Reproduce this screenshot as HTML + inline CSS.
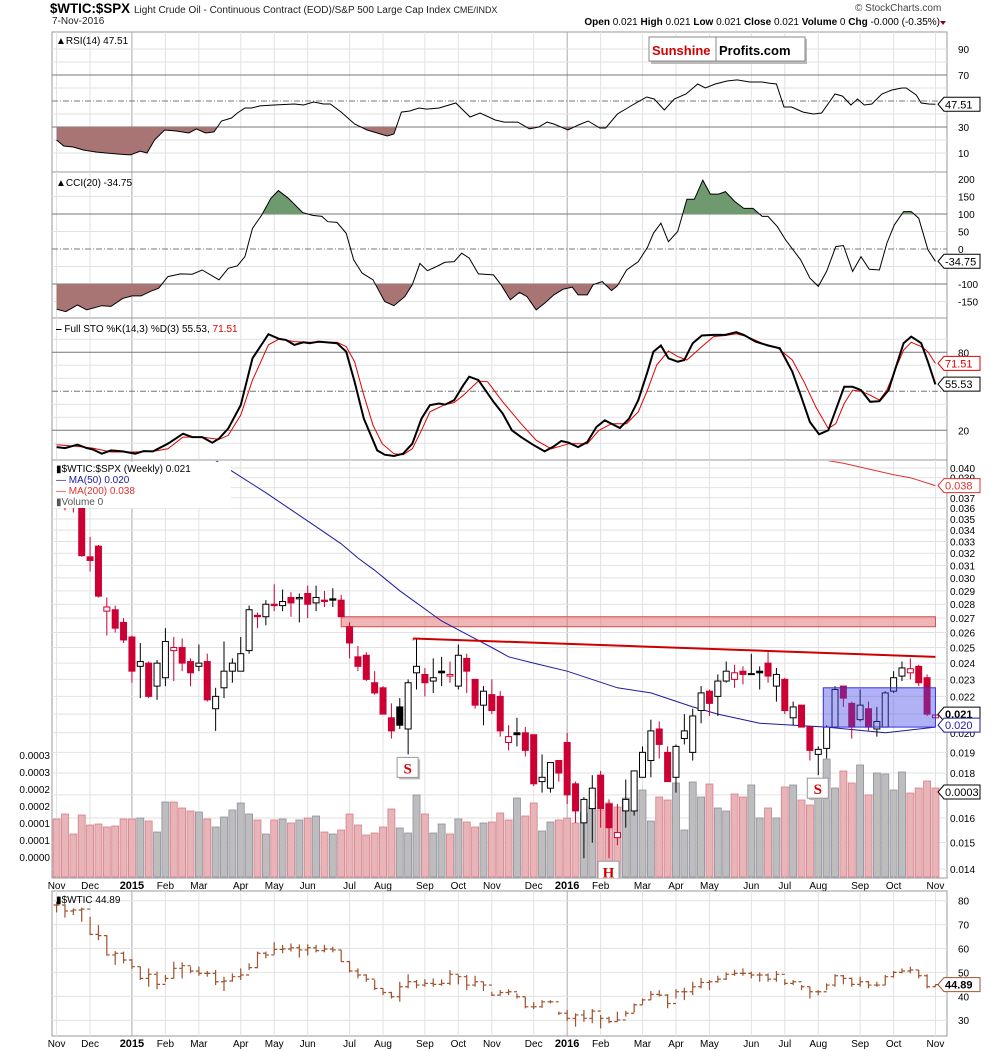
<!DOCTYPE html>
<html><head><meta charset="utf-8"><title>$WTIC:$SPX chart</title>
<style>
html,body{margin:0;padding:0;background:#fff;}
svg{display:block;font-family:"Liberation Sans",sans-serif;}
</style></head>
<body>
<svg id="chart" width="990" height="1051" viewBox="0 0 990 1051" xmlns="http://www.w3.org/2000/svg">
<defs>
<clipPath id="cpRsi"><rect x="52" y="32" width="895" height="140"/></clipPath>
<clipPath id="cpRsiLow"><rect x="52" y="127" width="895" height="45"/></clipPath>
<clipPath id="cpCci"><rect x="52" y="172" width="895" height="146"/></clipPath>
<clipPath id="cpCciHi"><rect x="52" y="172" width="895" height="42"/></clipPath>
<clipPath id="cpCciLo"><rect x="52" y="284" width="895" height="34"/></clipPath>
<clipPath id="cpSto"><rect x="52" y="318" width="895" height="142"/></clipPath>
<clipPath id="cpPrice"><rect x="52" y="461" width="895" height="417"/></clipPath>
<clipPath id="cpW"><rect x="52" y="891" width="895" height="145"/></clipPath>
</defs>
<text x="50" y="13" font-size="14" font-weight="bold" textLength="80" lengthAdjust="spacingAndGlyphs">$WTIC:$SPX</text>
<text x="134" y="13" font-size="10" fill="#222">Light Crude Oil - Continuous Contract (EOD)/S&amp;P 500 Large Cap Index <tspan font-size="9">CME/INDX</tspan></text>
<text x="52" y="24" font-size="10" fill="#222">7-Nov-2016</text>
<text x="855" y="11" font-size="10" fill="#444">© StockCharts.com</text>
<text x="940" y="25" font-size="10" text-anchor="end" fill="#000"><tspan font-weight="bold">Open</tspan> 0.021 <tspan font-weight="bold">High</tspan> 0.021 <tspan font-weight="bold">Low</tspan> 0.021 <tspan font-weight="bold">Close</tspan> 0.021 <tspan font-weight="bold">Volume</tspan> 0 <tspan font-weight="bold">Chg</tspan> -0.000 (-0.35%)</text>
<path d="M940 21 L946 21 L943 25 Z" fill="#8b0030"/>
<g id="layer"></g>
</svg>
<script>
// ===== DATA =====
const monthLabels=["Nov","Dec","2015","Feb","Mar","Apr","May","Jun","Jul","Aug","Sep","Oct","Nov","Dec","2016","Feb","Mar","Apr","May","Jun","Jul","Aug","Sep","Oct","Nov"];
const monthWeeks=[0,4,9,13,17,22,26,30,35,39,44,48,52,57,61,65,70,74,78,83,87,91,96,100,105];
// price (in thousandths: 21.0 = 0.0210)
const priceOpen=[38.0,37.5,37.0,36.0,31.7,32.6,27.5,27.6,26.7,25.7,23.8,24.0,22.6,23.1,24.8,25.0,24.1,23.8,24.1,21.3,22.5,23.5,23.5,24.8,27.2,27.1,28.0,27.9,28.5,28.4,28.8,28.1,28.3,28.4,28.3,26.4,24.4,24.5,22.8,22.5,20.8,21.4,20.2,23.4,23.3,22.9,23.5,23.2,22.6,24.3,23.0,21.5,22.1,22.0,19.5,20.0,20.0,19.9,17.6,17.3,18.6,19.5,17.5,15.8,16.4,17.9,16.6,15.2,16.3,16.3,17.8,18.6,20.2,19.0,17.8,19.7,19.0,21.2,22.3,22.0,22.9,23.0,23.5,23.35,23.5,24.0,22.6,23.0,20.8,21.5,20.3,18.9,19.2,20.3,22.6,21.6,20.7,21.3,20.2,20.3,22.3,23.2,23.4,23.8,23.1,20.8];
const priceHigh=[39.0,38.5,38.0,36.2,33.4,32.7,28.5,27.9,27.0,25.8,25.3,24.1,24.2,26.3,25.7,25.6,24.3,25.2,24.6,22.5,25.4,24.3,25.7,27.9,27.4,28.3,29.5,29.1,28.9,28.8,29.4,29.4,29.0,29.2,28.7,26.7,25.1,24.7,23.5,22.6,21.6,21.9,23.0,25.6,23.7,24.3,24.4,24.1,25.2,24.6,23.0,22.6,23.0,22.3,20.4,20.8,20.3,19.9,18.9,18.5,18.6,20.0,17.6,16.9,17.9,18.1,16.8,16.6,17.7,18.1,19.3,20.7,20.6,19.3,19.4,21.0,21.3,22.6,22.4,23.3,24.1,23.9,23.8,24.6,23.8,24.7,23.7,23.1,21.7,21.5,20.3,19.3,20.4,22.6,22.6,21.7,22.4,21.7,21.4,22.3,23.5,24.1,24.3,23.9,23.3,21.0];
const priceLow=[36.6,35.8,35.6,31.7,30.5,28.5,25.8,26.0,25.3,22.8,21.9,21.9,21.8,22.6,22.9,23.5,22.6,23.5,21.7,20.1,21.9,22.8,23.5,24.6,26.3,26.5,27.5,27.5,27.1,26.7,27.0,27.5,27.8,27.8,27.1,24.3,23.5,22.9,22.1,21.0,19.7,20.2,18.9,22.4,22.0,22.2,22.6,22.8,22.4,22.2,21.3,20.4,21.0,19.8,19.1,19.3,18.8,17.4,17.1,17.1,17.6,16.6,15.8,14.4,15.0,15.6,14.4,14.9,15.6,16.1,17.8,17.8,18.7,17.6,17.1,19.4,18.6,20.5,20.9,20.9,22.8,22.5,22.7,23.3,22.4,22.8,21.7,21.0,20.4,20.3,18.6,17.9,18.7,20.3,21.4,19.7,20.6,20.1,19.8,20.3,22.2,22.9,23.0,22.6,20.9,20.8];
const priceClose=[37.5,37.0,36.2,31.8,31.4,28.6,27.8,26.3,25.5,23.5,24.1,22.0,24.0,25.4,25.0,24.0,23.4,24.0,21.8,22.0,23.5,24.0,24.6,27.6,27.1,28.0,27.9,28.2,28.1,28.5,28.0,28.5,28.2,28.3,27.1,25.3,23.8,23.0,22.2,21.0,20.1,20.4,22.8,23.8,22.8,23.1,23.4,23.3,24.5,23.5,21.5,22.3,21.2,20.1,19.8,19.9,19.1,17.5,17.8,18.5,18.0,17.0,16.3,16.8,17.3,16.4,15.6,15.4,16.8,18.1,19.0,20.1,19.4,17.6,19.3,20.1,20.9,22.2,21.6,22.9,23.5,23.4,23.3,23.3,23.4,23.2,23.3,21.2,21.4,20.3,19.1,19.15,20.3,22.4,21.9,20.3,21.5,20.3,20.6,22.2,23.1,23.7,23.65,22.8,21.0,20.95];
const volume=[11.6,12.6,8.6,12.4,10.4,10.6,10,10.2,11.6,11.6,11.8,11.2,9,15,15,13.8,13.2,13,11.6,10,12,13.4,14.8,12.6,11.4,8.6,11.4,11.6,10.8,11.4,11.8,12.2,9,8.6,9.4,12.6,10.4,8.4,8.8,10,13.6,9.8,8.8,16.4,12.6,8.8,10.6,8.6,11.6,11,10,10.8,11,12.8,11.4,15.8,12.2,14.8,9.2,11,11.4,11.8,10.8,12.8,14,13.4,14.8,14,15.8,13.4,17.4,11.2,16,15.4,18.8,9.4,19,16,18.6,13.8,13.2,16.6,16,18.4,11.8,13.8,11.8,18,18.4,15.4,14.4,17.4,23.6,17.8,21.2,18.8,22.4,16.4,20.8,20.6,17.4,21,16.8,17.8,19.2,17.8];
const ma50Week=[17,20,25,31,34,36,38,41,46,52,54,57,61,67,71,76,79,84,92,99,105];
const ma50Val=[42.0,40.2,37.5,34.3,32.8,31.6,30.6,29.0,26.8,25.0,24.4,24.0,23.5,22.5,22.2,21.4,21.0,20.5,20.3,20.0,20.3];
const ma200Week=[92,94,100,102,105];
const ma200Val=[40.8,40.5,39.3,39.0,38.2];
const priceTicks=[40,39,38,37,36,35,34,33,32,31,30,29,28,27,26,25,24,23,22,21,20,19,18,17,16,15,14];
const volTickVals=[24.4,21,17.6,14.2,10.8,7.4,4];
const volTickLabels=["0.0003","0.0003","0.0002","0.0002","0.0001","0.0001","0.0000"];
// RSI
const rsiWeek=[0,0.85,2,3.2,4.7,5.9,7.3,8.8,10,10.8,11.7,12.9,14.3,15.8,16.7,17.8,18.8,19.7,20.9,21.6,22.5,23.3,24.3,26,28.4,29.5,30.7,31.9,32.7,34,35.6,37.1,38.3,39.5,40.3,41.2,42.2,43.3,44.2,45.7,47.7,49.4,50.6,52.4,53.5,55.1,56.5,57.6,58.6,59.4,61.1,62.3,63.5,64.9,65.6,67,68.8,70.5,71.4,72.6,73.8,75.2,76.6,77.5,78.7,80.1,81.3,82.8,84.3,85.1,86,86.9,87.8,89.2,90.4,91.4,92.5,93,93.9,94.9,95.7,96.5,97.4,98.6,99.8,101,101.5,102.7,103.3,104.2,105];
const rsiVal=[20,15.4,14.6,12.3,10.8,10,9.2,8.5,11.5,10,20,27.7,26.9,25.4,28.5,25.4,26.2,34.6,36.9,40.8,44.6,44.6,46.2,46.9,47.7,46.9,49.2,47.7,47.7,41.5,32.3,27.7,25.4,23.1,24.6,41.5,42.3,44.6,43.8,44.6,48.5,37.7,40.8,35.4,33.8,33.8,28.5,30,33.8,32.3,27.7,31.5,34.6,29.2,29.2,40,46.9,53.1,51.5,43.1,51.5,55.4,63.1,60,63.1,65.4,66.2,64.6,64.6,63.8,63.1,45.4,45.4,41.5,40,40.8,50.8,55.4,53.8,46.9,51.5,46.9,47.7,55.4,58.5,60,60,54.6,48.5,47.7,47.5];
const rsiTicks=[90,70,30,10];
// CCI
const cciWeek=[0,1.1,2.5,3.6,5.4,6.5,7.9,9,10.1,11.2,12.2,13.3,14.8,16.2,17.4,19.4,20.5,21.6,22.5,23.4,24.5,25.6,26.5,27.7,29.4,30.6,31.7,32.4,33.5,34.6,35.5,36.5,37.8,39.2,40.3,41.6,42.5,43.4,44.3,45.4,46.4,47.5,48.4,49.3,50.4,52.2,53.1,54.2,55.3,56.2,57.3,58.3,59.4,60.5,61.6,62.3,63.4,64.1,65.2,66.3,67,68.1,69.5,70.6,71.3,72.2,73.1,74.2,75.3,76.2,77.2,78.1,79.1,79.9,81,82.1,83.2,84.3,85,86.1,87.1,88.9,90,91,92,93.1,94,95.1,96.1,97.1,98.3,99.2,100.1,101.2,102.1,103,104.1,105];
const cciVal=[-172,-179,-160,-174,-162,-164,-141,-134,-134,-121,-112,-79,-71,-72,-60,-88,-55,-48,-22,59,97,145,167,145,104,96,93,78,76,45,-31,-69,-88,-150,-162,-136,-102,-41,-62,-50,-38,-36,-12,-26,-71,-74,-102,-145,-124,-136,-174,-155,-131,-115,-109,-131,-131,-102,-93,-119,-105,-60,-36,5,45,74,21,50,142,142,197,157,157,164,136,116,116,93,93,64,26,-31,-83,-107,-64,7,10,-64,-22,-58,-60,17,69,107,107,88,-2,-35];
const cciTicks=[200,150,100,50,0,-100,-150];
// STO
const stoKWeek=[0,1,2.5,3.6,4.3,5.4,6.5,7.9,9.4,10.4,11.5,13.3,15.1,16.2,17.4,18.6,19.4,20.5,22,23.4,25.3,26.6,27.4,28.4,29.5,30.2,31.3,33.5,34.6,35.6,36.7,37.8,38.3,39.2,40.3,41.4,42.5,43.6,44.6,45.7,46.4,47.5,48.6,49.3,50.4,52.2,53.3,54.4,55.5,56.9,58.3,59.4,60.3,61.2,62.3,63.4,64.5,65.5,67.3,68.4,69.5,70.6,71.3,72.2,73.1,74.2,75,76,77.1,78.5,79.9,81.2,82.1,83.5,85,86.4,87.9,88.9,90,91.1,92.2,93.3,94.1,95.1,96.1,97.2,98.3,99.4,100.1,101.2,102.1,103.3,104.1,105];
const stoKVal=[7.1,6.3,8.9,6.3,5.3,2.0,4.5,3.8,2.0,4.0,3.8,9.7,17.4,14.8,14.8,10.5,13.6,21.3,39.3,75.4,93.9,90.3,89.5,85.7,87.7,87.0,88.2,87.0,80.5,57.3,29.0,12.3,4.5,1.2,0.2,2.0,9.7,29.0,39.3,40.6,39.8,43.2,54.8,61.2,58.6,41.9,32.9,20.0,14.8,8.9,3.8,7.6,11.8,10.5,7.1,11.0,22.6,27.7,21.8,29.0,43.2,65.1,80.5,85.2,75.4,72.8,74.1,87.0,92.9,93.4,93.4,95.5,93.4,88.2,85.2,83.1,65.1,47.0,26.4,16.9,20.0,39.3,53.5,53.5,50.9,41.9,42.4,50.9,65.1,87.0,92.1,87.0,72.8,55.3];
const stoDWeek=[0,2.5,4.3,6.5,9.4,11.5,13.3,15.1,17.4,19.4,20.5,22,23.4,25.3,26.6,28.4,30.2,32.4,33.5,34.6,35.6,36.7,37.8,38.9,40.3,41.4,42.5,43.6,44.6,46.4,47.5,48.6,50.4,51.5,53.3,55.5,57.3,59.1,61.2,63.4,64.8,66.3,68.1,69.5,70.6,71.7,73.1,74.2,75.3,77.1,78.5,79.9,81.2,82.5,84.3,86.1,87.9,89.3,90.7,92.2,93.1,94.1,95.1,96.1,97.2,98.3,99.2,100.1,101.2,102.1,103.3,104.1,105];
const stoDVal=[8.9,7.6,6.3,3.3,3.3,3.8,5.8,14.8,14.8,13.0,16.1,31.6,58.6,85.7,90.3,88.2,87.7,87.7,87.7,84.4,72.8,47.0,23.9,9.7,2.0,1.2,5.8,20.0,34.2,39.8,41.4,47.0,57.9,57.3,41.9,25.1,12.3,5.8,9.7,9.7,20.0,25.1,25.1,34.2,50.9,70.2,81.0,76.7,74.1,84.4,92.1,92.9,94.2,92.1,87.0,83.6,74.1,57.3,38.0,21.3,25.1,40.6,50.9,50.1,47.0,43.2,50.9,65.1,81.8,87.7,84.4,80.5,71.5];
const stoTicks=[80,20];
// WTIC
const wClose=[78.2,75.7,76.1,76.5,65.9,65.4,57.3,58.0,55.2,52.4,47.5,49.2,45.0,47.5,51.7,52.8,50.6,49.6,49.6,46.1,46.4,48.2,48.9,52.0,58.0,57.3,59.6,59.8,60.3,59.4,60.3,59.1,59.8,59.4,54.5,50.6,48.9,47.2,43.3,41.6,39.8,44.0,46.1,44.7,45.4,45.0,45.4,49.2,48.2,44.7,46.1,44.7,40.5,41.6,41.9,39.8,35.6,35.6,37.7,37.7,32.9,30.8,32.2,30.8,33.8,30.8,29.4,30.1,32.9,36.4,38.5,40.8,40.5,37.0,41.9,41.9,44.0,45.8,46.1,47.2,49.2,49.6,49.6,48.9,48.9,47.2,49.2,45.4,46.1,44.0,41.9,41.9,44.7,48.6,47.5,45.0,46.1,44.7,44.7,48.2,50.0,50.6,51.0,48.6,44.0,44.9];
const wHigh=[79.6,78.5,76.8,77.1,73.3,69.8,65.6,58.9,58.7,55.6,52.4,51.7,50.3,48.9,54.5,54.2,52.4,52.4,50.6,51.0,48.2,49.6,51.7,53.8,58.7,58.7,62.6,61.5,62.1,61.7,61.7,61.5,61.5,60.8,59.4,54.8,51.7,49.2,46.8,43.3,41.9,46.1,49.2,46.8,47.2,47.5,47.1,51.0,48.9,48.9,48.6,46.1,41.9,42.6,43.0,41.2,39.8,37.5,38.4,38.4,33.6,34.3,32.9,34.3,34.7,32.2,31.5,33.6,33.9,37.0,39.1,42.2,42.6,40.9,43.0,43.6,46.1,47.7,46.8,48.6,50.0,51.0,51.7,50.3,50.0,49.6,50.6,47.2,46.8,44.7,44.0,42.6,45.4,49.2,48.9,47.8,48.2,46.4,46.1,48.9,50.6,51.7,52.4,51.0,49.2,45.0];
const wLow=[75.1,72.9,74.0,71.2,65.6,63.5,57.0,53.1,53.8,51.4,46.8,44.0,43.0,46.1,47.5,47.5,49.7,48.6,48.2,44.7,42.2,46.1,46.8,51.0,51.7,55.9,57.5,58.0,58.7,56.2,57.0,58.4,58.4,58.4,54.5,50.0,47.5,46.1,42.6,40.5,39.1,37.7,43.3,43.3,44.0,44.0,44.4,44.7,45.0,42.6,44.0,42.2,40.1,40.3,40.5,39.1,35.0,34.7,35.2,37.0,32.2,29.7,27.3,29.3,28.7,26.6,28.7,29.4,31.5,33.2,36.4,38.5,39.9,35.0,39.1,38.4,40.5,43.3,42.6,45.7,46.8,48.6,48.6,47.5,46.1,46.1,46.1,44.7,44.7,42.6,39.1,40.5,42.6,44.0,45.0,44.0,44.0,43.3,44.0,44.7,47.8,49.6,49.6,47.5,43.3,44.0];
const wTicks=[80,70,60,50,40,30];
// annotations (data coords)
const resistZone={w0:34,w1:105,lo:26.4,hi:27.1};
const trendLine={w0:42.6,v0:25.6,w1:105,v1:24.4};
const consolBox={w0:91.6,w1:105,lo:20.3,hi:22.5};
const patternLabels=[{t:"S",w:42},{t:"H",w:66},{t:"S",w:91}];

// ===== SCALES =====
const L=52,R=947;
const xw=k=>56.6+8.37*k;
const yp=p=>468+382*Math.log(40/p);
const yv=v=>877-v*5;
const yr=v=>75+(70-v)*1.3;
const yc=v=>249-v*0.35;
const ys=v=>391.3-(v-50)*1.3;
const yW=v=>900.7+(80-v)*2.39;

const NS='http://www.w3.org/2000/svg';
const root=document.getElementById('layer');
function mk(tag,a,parent){const e=document.createElementNS(NS,tag);for(const k in a)e.setAttribute(k,a[k]);(parent||root).appendChild(e);return e;}
function grp(clip,parent){const g=mk('g',clip?{'clip-path':'url(#'+clip+')'}:{},parent);return g;}
function pts(ws,vs,fy){let s='';const n=Math.min(ws.length,vs.length);for(let i=0;i<n;i++)s+=xw(ws[i]).toFixed(1)+','+fy(vs[i]).toFixed(1)+' ';return s;}
function txt(x,y,s,a,parent){const t=mk('text',Object.assign({x:x,y:y,'font-size':10,fill:'#000'},a||{}),parent);t.textContent=s;return t;}
function tag(y,s,color,bold){
  const g=mk('g',{});
  
  
  mk('path',{d:`M938 ${y} L944 ${y-7} L980 ${y-7} L980 ${y+7} L944 ${y+7} Z`,fill:'#fff',stroke:color,'stroke-width':1},g);
  const t=txt(945,y+4,s,{fill:bold?'#000':color,'font-weight':bold?'bold':'normal','font-size':11},g);
  
  
}
function panel(name,y0,y1){
  const r=mk('rect',{x:L,y:y0,width:R-L,height:y1-y0,fill:'#fff',stroke:'#999','stroke-width':1});
  
  
  monthWeeks.forEach((w,i)=>{
    const yr2=(monthLabels[i]==="2015"||monthLabels[i]==="2016");
    const l=mk('line',{x1:xw(w),x2:xw(w),y1:y0,y2:y1,stroke:yr2?'#aaa':'#e2e2e2','stroke-width':1});
    
    
  });
}
function hline(y,style,name){
  const a={x1:L,x2:R,y1:y,y2:y,stroke:style==='light'?'#e2e2e2':'#777','stroke-width':1};
  if(style==='dash')a['stroke-dasharray']='6,2,1,2';
  const l=mk('line',a);
  
  
}

// ===== RSI PANEL =====
panel('rsi-panel',32,172);
[80,60,40,20].forEach(v=>hline(yr(v),'light','rsi-gridline'));
[90,10].forEach(v=>hline(yr(v),'light','rsi-gridline'));
hline(yr(70),'solid','rsi-overbought-line');hline(yr(30),'solid','rsi-oversold-line');hline(yr(50),'dash','rsi-midline');
{const g=grp('cpRsiLow');const p=mk('polygon',{points:xw(rsiWeek[0])+','+yr(30)+' '+pts(rsiWeek,rsiVal,yr)+xw(105)+','+yr(30),fill:'#a87474'},g);
}
{const g=grp('cpRsi');const p=mk('polyline',{points:pts(rsiWeek,rsiVal,yr),fill:'none',stroke:'#000','stroke-width':1},g);
}
rsiTicks.forEach(v=>{const t=txt(958,yr(v)+4,String(v));});
{const t=txt(56,44,'▲RSI(14) 47.51',{'font-size':10});}
tag(yr(47.5),'47.51','#000',false);

// Sunshine box
{const g=mk('g',{});
mk('rect',{x:651,y:39,width:156,height:25,fill:'#bbb'},g);
mk('rect',{x:649,y:37,width:156,height:24,fill:'#fff',stroke:'#888'},g);
mk('line',{x1:716,x2:716,y1:37,y2:61,stroke:'#888'},g);
txt(652,55,'Sunshine',{fill:'#d00000','font-weight':'bold','font-size':13},g);
txt(719,55,'Profits.com',{fill:'#000','font-weight':'bold','font-size':13},g);}

// ===== CCI PANEL =====
panel('cci-panel',172,318);
[150,50,-50,-150].forEach(v=>hline(yc(v),'light','cci-gridline'));
hline(yc(100),'solid','cci-upper-line');hline(yc(-100),'solid','cci-lower-line');hline(yc(0),'dash','cci-zero-line');
{const g=grp('cpCciHi');const p=mk('polygon',{points:xw(0)+','+yc(100)+' '+pts(cciWeek,cciVal,yc)+xw(105)+','+yc(100),fill:'#6f9a6f'},g);
}
{const g=grp('cpCciLo');const p=mk('polygon',{points:xw(0)+','+yc(-100)+' '+pts(cciWeek,cciVal,yc)+xw(105)+','+yc(-100),fill:'#a87474'},g);
}
{const g=grp('cpCci');const p=mk('polyline',{points:pts(cciWeek,cciVal,yc),fill:'none',stroke:'#000','stroke-width':1},g);
}
cciTicks.forEach(v=>{const t=txt(958,yc(v)+4,String(v));});
{const t=txt(56,186,'▲CCI(20) -34.75');}
tag(yc(-35),'-34.75','#000',false);

// ===== STO PANEL =====
panel('sto-panel',318,460);
[90,70,60,40,30,10].forEach(v=>hline(ys(v),'light','sto-gridline'));
hline(ys(80),'solid','sto-upper-line');hline(ys(20),'solid','sto-lower-line');hline(ys(50),'dash','sto-midline');
{const g=grp('cpSto');
const d=mk('polyline',{points:pts(stoDWeek,stoDVal,ys),fill:'none',stroke:'#e00000','stroke-width':1},g);

const k=mk('polyline',{points:pts(stoKWeek,stoKVal,ys),fill:'none',stroke:'#000','stroke-width':2},g);
}
stoTicks.forEach(v=>{const t=txt(958,ys(v)+4,String(v));});
{const t=txt(56,332,'');
t.innerHTML='<tspan font-weight="bold">‒</tspan> Full STO %K(14,3) %D(3) 55.53, <tspan fill="#e00000">71.51</tspan>';}
tag(ys(71.5),'71.51','#e00000',false);
tag(ys(55.5),'55.53','#000',false);

// ===== PRICE PANEL =====
panel('price-panel',460,878);
priceTicks.forEach(v=>hline(yp(v),'light','price-gridline'));
{const g=grp('cpPrice');
// volume
for(let i=0;i<volume.length;i++){
  const prev=i>0?priceClose[i-1]:priceOpen[i];
  const down=priceClose[i]<prev;
  const b=mk('rect',{x:xw(i)-3.5,y:yv(volume[i]),width:7,height:877-yv(volume[i]),fill:down?'#e8b4b8':'#bdbdbd',stroke:down?'#d58088':'#8f8f9f','stroke-width':0.8},g);
  
  
}
// resistance zone
{const r=mk('rect',{x:xw(resistZone.w0),y:yp(resistZone.hi),width:xw(resistZone.w1)-xw(resistZone.w0),height:yp(resistZone.lo)-yp(resistZone.hi),fill:'rgba(226,110,110,0.5)',stroke:'#d05050','stroke-width':1},g);
}
// MAs
{const m=mk('polyline',{points:pts(ma50Week,ma50Val,yp),fill:'none',stroke:'#1a1aa0','stroke-width':1},g);

const m2=mk('polyline',{points:pts(ma200Week,ma200Val,yp),fill:'none',stroke:'#e03030','stroke-width':1},g);
}
// candles
for(let i=0;i<priceClose.length;i++){
  const o=priceOpen[i],c=priceClose[i],h=priceHigh[i],l=priceLow[i];
  const prev=i>0?priceClose[i-1]:o;
  const col=c<prev?'#cc0033':'#000';
  const filled=c<o;
  const x=xw(i);
  const w=mk('line',{x1:x,x2:x,y1:yp(h),y2:yp(l),stroke:col,'stroke-width':1},g);
  
  
  const top=yp(Math.max(o,c)),bot=yp(Math.min(o,c));
  const b=mk('rect',{x:x-3,y:top,width:6,height:Math.max(1,bot-top),fill:filled?col:'#fff',stroke:col,'stroke-width':1},g);
  
  
}
// trend line
{const t=mk('line',{x1:xw(trendLine.w0),y1:yp(trendLine.v0),x2:xw(trendLine.w1),y2:yp(trendLine.v1),stroke:'#cc0000','stroke-width':2},g);

const v=mk('line',{x1:xw(trendLine.w0),y1:yp(trendLine.v0),x2:xw(trendLine.w0),y2:yp(trendLine.v0)+2,stroke:'#cc0000','stroke-width':1},g);
}
// consolidation box
{const r=mk('rect',{x:xw(consolBox.w0),y:yp(consolBox.hi),width:xw(consolBox.w1)-xw(consolBox.w0),height:yp(consolBox.lo)-yp(consolBox.hi),fill:'rgba(70,70,230,0.42)',stroke:'#3333dd','stroke-width':1},g);
}
// pattern labels
patternLabels.forEach(p=>{
  const x=xw(p.w),y=yp(priceLow[p.w])+3;
  const lb=mk('g',{},g);
  
  
  mk('rect',{x:x-9,y:y+2,width:21,height:20,fill:'#bbb'},lb);
  mk('rect',{x:x-11,y:y,width:21,height:20,fill:'#fff',stroke:'#999'},lb);
  txt(x-0.5,y+16,p.t,{'text-anchor':'middle',fill:'#d00000','font-weight':'bold','font-size':15,'font-family':'Liberation Serif, serif'},lb);
});
}
// legend
{const g=mk('g',{});
mk('rect',{x:53,y:462,width:178,height:46,fill:'#fff'},g);
txt(56,472,'▮$WTIC:$SPX (Weekly) 0.021',{'font-size':10},g);
txt(56,483,'— MA(50) 0.020',{'font-size':10,fill:'#1a1aa0'},g);
txt(56,494,'— MA(200) 0.038',{'font-size':10,fill:'#e03030'},g);
txt(56,505,'▮Volume 0',{'font-size':10,fill:'#555'},g);}
priceTicks.forEach(v=>{const t=txt(950,yp(v)+4,'0.0'+String(v).padStart(2,'0'));});
volTickVals.forEach((v,i)=>{const t=txt(50,yv(v)+4,volTickLabels[i],{'text-anchor':'end'});});
tag(yp(38.2),'0.038','#e03030',false);
tag(yp(21.0),'0.021','#000',true);
tag(yp(20.3)-2,'0.020','#1a1aa0',false);
tag(yv(17.8)+4,'0.0003','#000',false);
// month labels
function months(y,name){monthWeeks.forEach((w,i)=>{const yr2=(monthLabels[i]==="2015"||monthLabels[i]==="2016");
 const t=txt(xw(w),y,monthLabels[i],{'text-anchor':'middle','font-weight':yr2?'bold':'normal','font-size':yr2?11:10});
 });}
months(889,'price-month-label');

// ===== WTIC PANEL =====
panel('wtic-panel',891,1036);
wTicks.forEach(v=>hline(yW(v),'light','wtic-gridline'));
{const g=grp('cpW');
for(let i=0;i<wClose.length;i++){
  const x=xw(i);const prev=i>0?wClose[i-1]:wClose[i];
  const b=mk('path',{d:`M${x} ${yW(wHigh[i])} V${yW(wLow[i])} M${x-3} ${yW(prev)} H${x} M${x} ${yW(wClose[i])} H${x+3}`,stroke:'#a0522d','stroke-width':1.2,fill:'none'},g);
  
  
}}
wTicks.forEach(v=>{const t=txt(958,yW(v)+4,String(v));});
{const t=txt(56,903,'▮$WTIC 44.89',{'font-size':10});}
tag(yW(44.9),'44.89','#a0522d',true);
months(1047,'wtic-month-label');
</script>
</body></html>
